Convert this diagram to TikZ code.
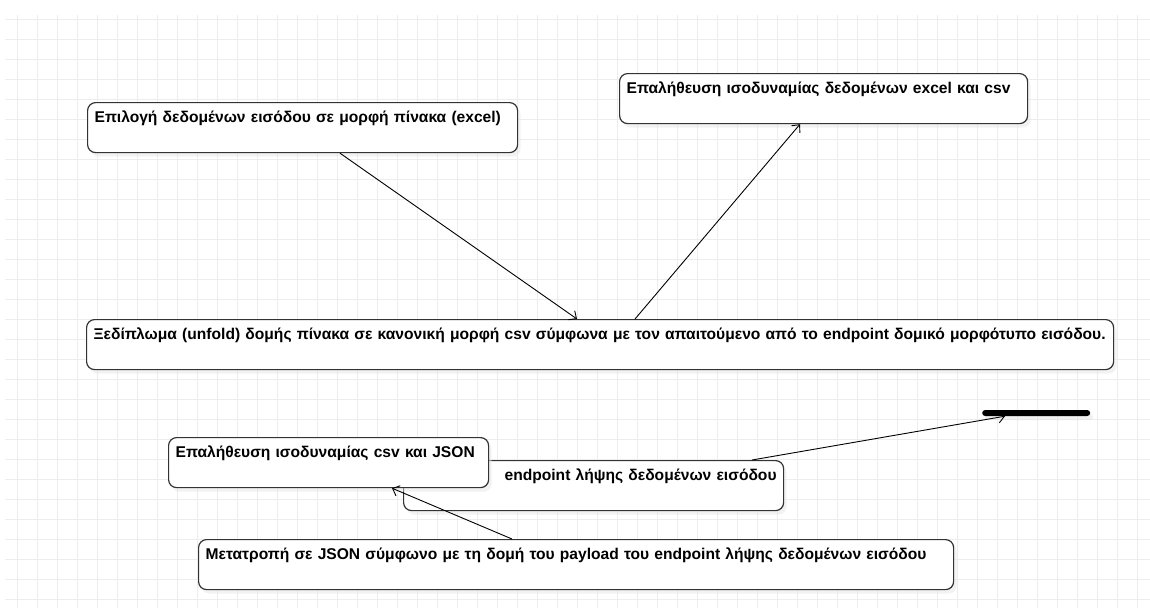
\documentclass[tikz,border=0pt]{standalone}
\usepackage{fontspec}
\setmainfont{Liberation Sans}
\usetikzlibrary{arrows.meta,shadows}

\begin{document}
\begin{tikzpicture}[x=1pt, y=-1pt, every node/.style={font=\fontsize{15.6}{18}\selectfont\bfseries}]
\useasboundingbox (0,0) rectangle (1150,608);

% Define styles
\tikzstyle{gridline} = [draw=black!7, line width=0.8pt]
\tikzstyle{process} = [rectangle, rounded corners=8pt, fill=white, draw=black!80, line width=1.2pt, anchor=north west, align=left, inner xsep=7pt, inner ysep=4pt, text height=16pt, text depth=26pt, drop shadow={shadow xshift=3pt, shadow yshift=-4pt, fill=black!10}]
\tikzstyle{arrow} = [line width=0.9pt, ->, >={Straight Barb[length=6pt,width=11pt]}]

% Grid
\foreach \x in {17,37,...,1150} \draw[gridline] (\x,15) -- (\x,608);
\foreach \y in {19,39,...,608} \draw[gridline] (5,\y) -- (1150,\y);

% Nodes
\node[process, text width=416pt] (select) at (87,102) {Επιλογή δεδομένων εισόδου σε μορφή πίνακα (excel)};

\node[process, text width=394pt] (checkexcel) at (619,73) {Επαλήθευση ισοδυναμίας δεδομένων excel και csv};

\node[process, text width=1013pt] (unfold) at (86,319) {Ξεδίπλωμα (unfold) δομής πίνακα σε κανονική μορφή csv σύμφωνα με τον απαιτούμενο από το endpoint δομικό μορφότυπο εισόδου.};

\node[process, text width=366pt, align=right] (endpoint) at (403,460) {endpoint λήψης δεδομένων εισόδου};

\node[process, text width=306pt] (checkjson) at (168,437) {Επαλήθευση ισοδυναμίας csv και JSON};

\node[process, text width=741pt] (convert) at (198,539) {Μετατροπή σε JSON σύμφωνο με τη δομή του payload του endpoint λήψης δεδομένων εισόδου};

\node[fill=black, rounded corners=3pt, minimum width=108pt, minimum height=6pt, inner sep=0pt, anchor=west, drop shadow={shadow xshift=3pt, shadow yshift=-4pt, fill=black!10}] (bar) at (982,413) {};

% Arrows
\draw[arrow] ([xshift=253pt]select.south west) -- ([xshift=491pt]unfold.north west);
\draw[arrow] ([xshift=549pt]unfold.north west) -- ([xshift=181pt]checkexcel.south west);
\draw[arrow] ([xshift=349pt]endpoint.north west) -- ([xshift=23pt]bar.south west);
\draw[arrow] ([xshift=314pt]convert.north west) -- ([xshift=224pt]checkjson.south west);

\end{tikzpicture}
\end{document}
